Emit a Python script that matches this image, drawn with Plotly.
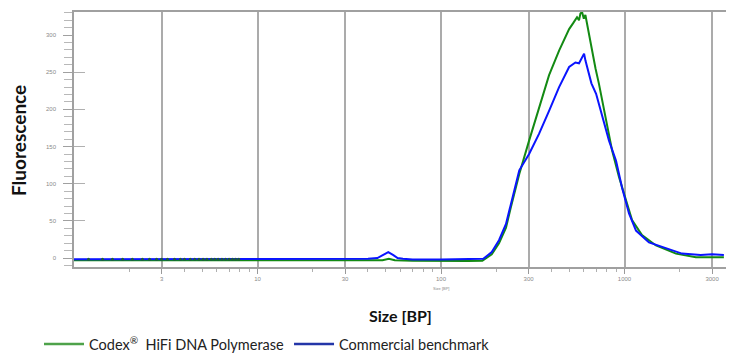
import plotly.graph_objects as go

# ---- data (size in bp, fluorescence) ----
green_size = [1, 2, 5, 10, 20, 30, 40, 48, 52, 56, 70, 100, 140, 168, 189, 207, 226, 240,
              267, 302, 342, 388, 440, 470, 499, 525, 551, 565, 575, 587, 600, 612, 625,
              645, 665, 695, 726, 760, 793, 855, 933, 1019, 1099, 1245, 1484, 1907, 2449,
              3000, 3479]
green_val = [-3, -3, -3, -3, -3, -3, -3.5, -3, -1, -3, -3.5, -4, -4, -3.5, 5, 20, 41, 68,
             113, 158, 203, 246, 279, 295, 308, 316, 324, 320, 329, 331, 322, 327, 315,
             295, 279, 255, 234, 210, 185, 145, 109, 78, 51, 31, 17, 6, 1,
             1, 1]

blue_size = [1, 2, 5, 10, 20, 30, 40, 45, 48, 51.6, 55, 58, 62, 70, 100, 140, 170, 189,
             207, 226, 240, 267, 302, 342, 388, 440, 499, 540, 565, 587, 602, 612, 625,
             660, 700, 755, 823, 899, 969, 1058, 1155, 1359, 1682, 2056, 2600, 3000, 3479]
blue_val = [-1.5, -1.5, -1.5, -1.5, -1.5, -1.5, -1, 0, 4, 8, 4, 0, -1, -2, -2, -2, -1, 8,
            24, 46, 72, 118, 140, 167, 198, 230, 257, 263, 262, 270, 275, 266, 257,
            235, 221, 190, 158, 131, 95, 60, 37, 21, 13, 6, 4, 5, 4]

# sample points visible as dots along the baseline
dot_size = [1.2, 1.43, 1.62, 1.84, 2.08, 2.36, 2.58, 2.82, 3.0, 3.23, 3.53, 3.8, 4.0,
            4.3, 4.55, 4.8, 5.05, 5.3, 5.6, 5.85, 6.1, 6.4, 6.7, 7.0, 7.3, 7.6, 7.9]
dot_val = [-1.5] * len(dot_size)

x_ticks = [3, 10, 30, 100, 300, 1000, 3000]
x_minor = [2, 4, 5, 6, 7, 8, 9, 20, 40, 50, 60, 70, 80, 90, 200, 400, 500, 600, 700,
           800, 900, 2000]
y_ticks = [0, 50, 100, 150, 200, 250, 300]
y_inner_ticks = [50, 100, 150, 200, 250]

series_names = ["Codex<sup>®</sup>  HiFi DNA Polymerase", "Commercial benchmark"]
plot_colors = ["#138a13", "#0a14ff"]
legend_colors = ["#4ea24a", "#2436a8"]

fig = go.Figure()
fig.add_trace(go.Scatter(x=green_size, y=green_val, mode="lines",
                         line=dict(color=plot_colors[0], width=2), showlegend=False))
fig.add_trace(go.Scatter(x=blue_size, y=blue_val, mode="lines",
                         line=dict(color=plot_colors[1], width=2), showlegend=False))
fig.add_trace(go.Scatter(x=dot_size, y=dot_val, mode="markers",
                         marker=dict(color="#1d5a3c", size=3), showlegend=False))
# legend entries
for name, col in zip(series_names, legend_colors):
    fig.add_trace(go.Scatter(x=[None], y=[None], mode="lines", name=name,
                             line=dict(color=col, width=2.5)))
# overlay axis that only carries the inner tick stubs
fig.add_trace(go.Scatter(x=[None], y=[None], yaxis="y2", showlegend=False, hoverinfo="skip"))

fig.update_layout(
    width=729, height=355,
    margin=dict(l=74, r=3, t=12, b=88, autoexpand=False),
    paper_bgcolor="white", plot_bgcolor="white",
    font=dict(family="Lato, Arial, sans-serif"),
    xaxis=dict(
        type="log", range=[0, 3.553], automargin=False,
        tickvals=x_ticks, ticktext=[str(v) for v in x_ticks],
        tickfont=dict(size=6, color="#8a8a8a", family="Arial"),
        ticks="outside", ticklen=5, tickcolor="#9a9a9a",
        minor=dict(tickvals=x_minor, ticks="outside", ticklen=3, tickcolor="#b0b0b0", showgrid=False),
        showgrid=True, gridcolor="#ababab", gridwidth=1.6,
        showline=True, linecolor="#a0a0a0", linewidth=1.5, mirror=True,
        zeroline=False,
    ),
    yaxis=dict(
        range=[-12, 331], automargin=False,
        tickvals=y_ticks, ticktext=[str(v) for v in y_ticks],
        tickfont=dict(size=6, color="#8a8a8a", family="Arial"),
        ticks="outside", ticklen=9, tickcolor="#a0a0a0", ticklabelstandoff=6,
        minor=dict(dtick=10, ticks="outside", ticklen=8, tickcolor="#b8b8b8", showgrid=False),
        showgrid=False, zeroline=False,
        showline=True, linecolor="#a0a0a0", linewidth=1.5,
    ),
    yaxis2=dict(
        overlaying="y", range=[-12, 331], side="left", automargin=False,
        tickvals=y_inner_ticks, showticklabels=False,
        ticks="inside", ticklen=11, tickcolor="#b0b0b0",
        showgrid=False, zeroline=False, showline=False,
    ),
    legend=dict(orientation="h", xref="container", x=39 / 729, xanchor="left",
                yref="container", y=1 - 344 / 355, yanchor="middle",
                font=dict(size=14.5, color="#222222", family="Lato, Arial, sans-serif"),
                itemwidth=40, tracegroupgap=0, bgcolor="rgba(0,0,0,0)"),
    annotations=[
        dict(text="Size [BP]", x=2, xref="x", y=(267 - 288) / 255, yref="paper",
             xanchor="center", yanchor="middle", showarrow=False,
             font=dict(size=4, color="#8a8a8a", family="Arial")),
        dict(text="<b>Size [BP]</b>", x=0.5, xref="paper", y=(267 - 315) / 255, yref="paper",
             xanchor="center", yanchor="middle", showarrow=False,
             font=dict(size=16, color="#111111", family="Lato, Arial, sans-serif")),
        dict(text="<b>Fluorescence</b>", x=(18 - 74) / 652, xref="paper", y=(267 - 141) / 255,
             yref="paper", xanchor="center", yanchor="middle",
             showarrow=False, textangle=-90, font=dict(size=19, color="#111111",
                                                       family="Lato, Arial, sans-serif")),
    ],
)

fig.write_html("out.html", config={"displayModeBar": False},
               post_script="document.body.style.margin='0';document.body.style.overflow='hidden';")
